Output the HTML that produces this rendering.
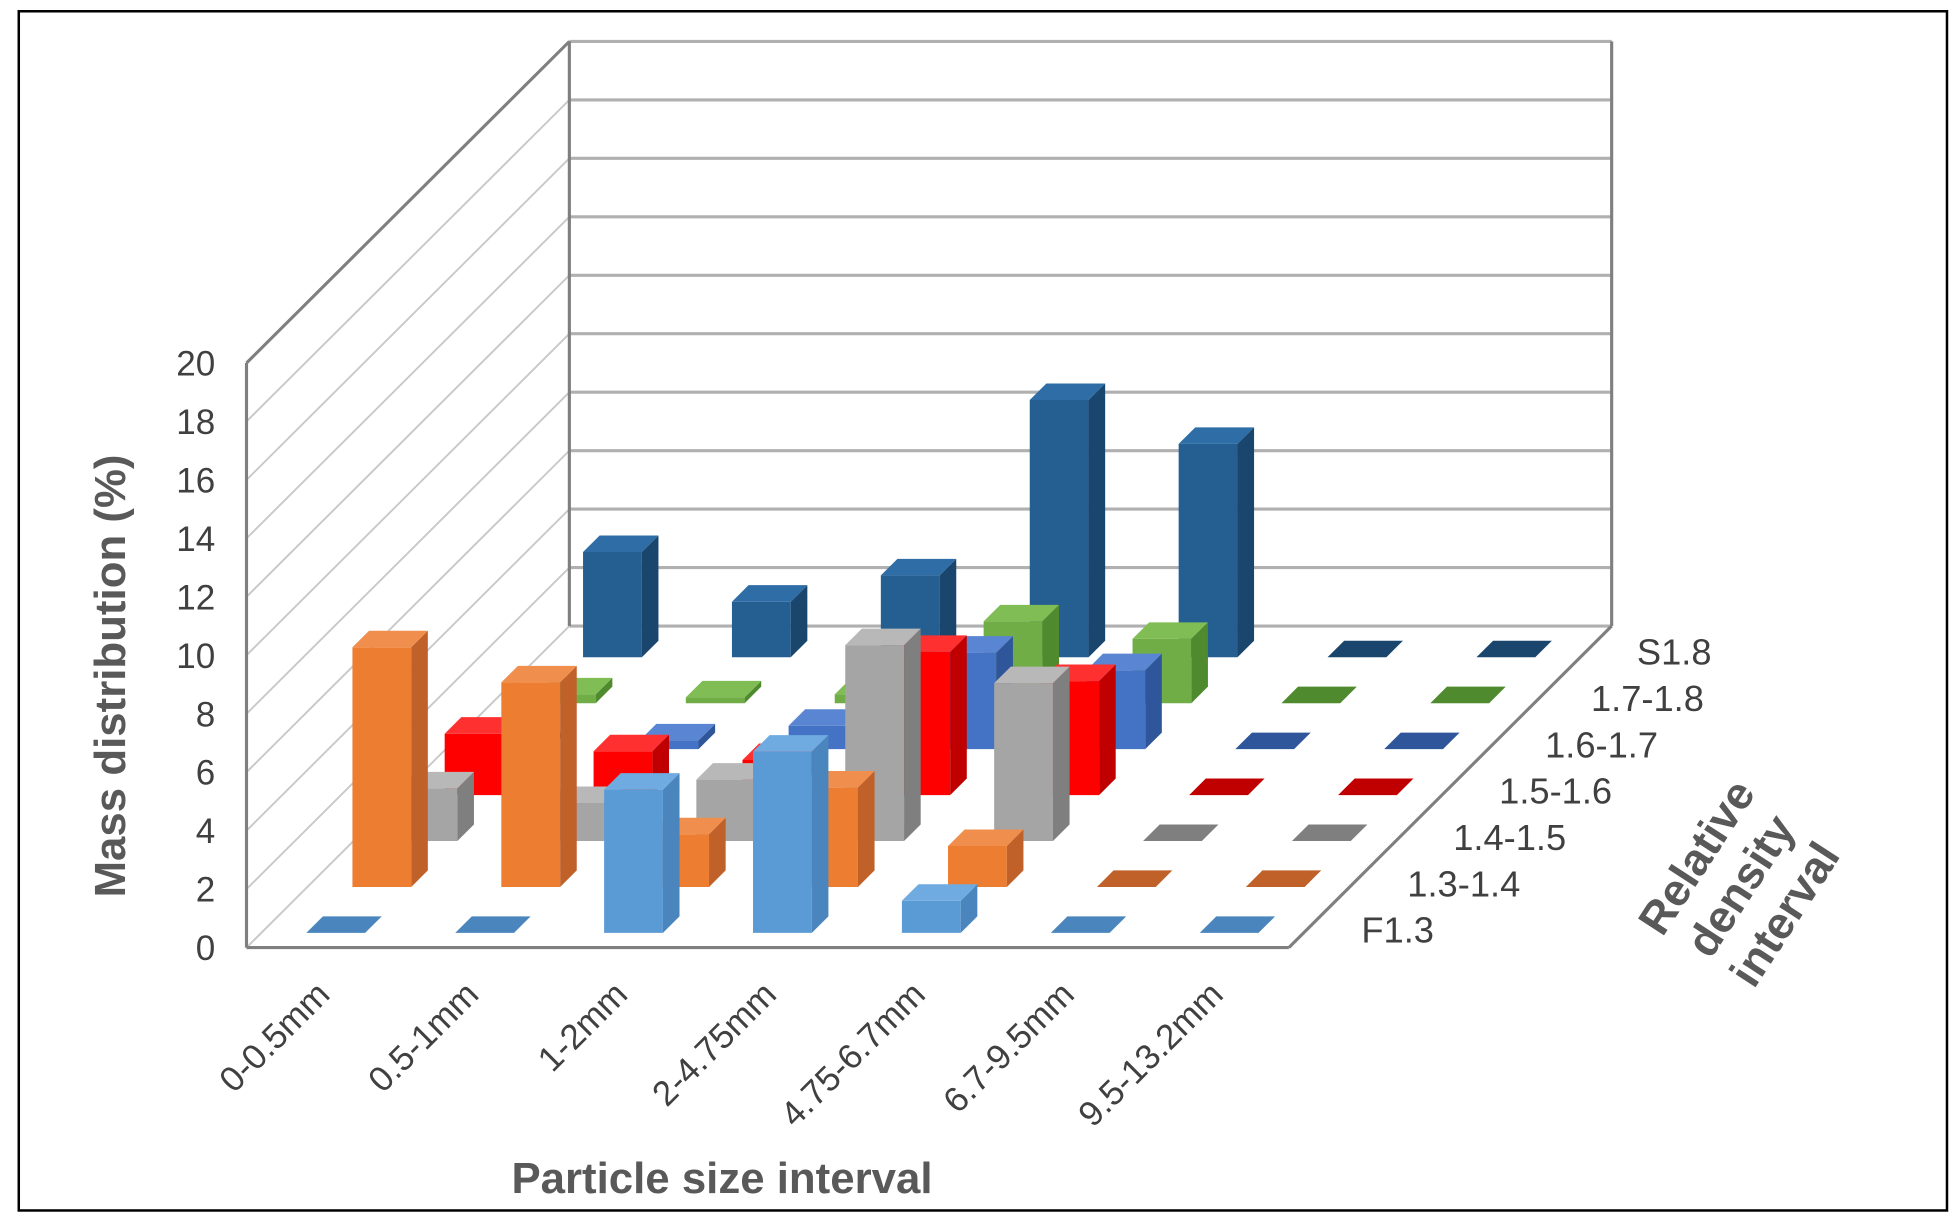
<!DOCTYPE html>
<html><head><meta charset="utf-8"><style>
html,body{margin:0;padding:0;background:#fff;}
svg{display:block;font-family:"Liberation Sans",Arial,sans-serif;}
</style></head><body>
<svg id="chart" width="1957" height="1228" viewBox="0 0 1564 981" preserveAspectRatio="none">
<rect x="15" y="9" width="1541" height="958" fill="#fff" stroke="#000" stroke-width="2"/>
<g id="walls"></g>
<g id="bars"></g>
<g id="labels"></g>
<text transform="translate(100,540) rotate(-90)" text-anchor="middle" font-size="35" font-weight="bold" fill="#595959">Mass distribution (%)</text>
<text x="577" y="953" text-anchor="middle" font-size="35" font-weight="bold" fill="#595959">Particle size interval</text>
<g transform="translate(1398,712) rotate(-57)" font-size="36" font-weight="bold" fill="#595959" text-anchor="middle">
<text x="0" y="-38">Relative</text><text x="0" y="4">density</text><text x="0" y="46">interval</text>
</g>
</svg>
<script>
const categories=["0-0.5mm","0.5-1mm","1-2mm","2-4.75mm","4.75-6.7mm","6.7-9.5mm","9.5-13.2mm"];
const seriesNames=["F1.3","1.3-1.4","1.4-1.5","1.5-1.6","1.6-1.7","1.7-1.8","S1.8"];
const valsF13=[0,0,4.9,6.2,1.1,0,0];
const vals1314=[8.2,7.0,1.8,3.4,1.4,0,0];
const vals1415=[1.8,1.3,2.1,6.7,5.4,0,0];
const vals1516=[2.1,1.5,1.2,4.9,3.9,0,0];
const vals1617=[0,0.3,0.8,3.3,2.7,0,0];
const vals1718=[0.3,0.2,0.3,2.8,2.2,0,0];
const valsS18=[3.6,1.9,2.8,8.8,7.3,0,0];
const series=[valsF13,vals1314,vals1415,vals1516,vals1617,vals1718,valsS18];
const yTicks=[0,2,4,6,8,10,12,14,16,18,20];
const colors=[["#5b9bd5","#4a86bd","#6fabe0"],["#ed7d31","#c0612a","#f08f4d"],["#a5a5a5","#7f7f7f","#b8b8b8"],["#ff0000","#c00000","#ff3030"],["#4472c4","#2f559a","#5a85d2"],["#70ad47","#4f8a2e","#80bd55"],["#255e91","#1a456d","#2e6da5"]];
const NS="http://www.w3.org/2000/svg";
const X0=197,Y0=757,CW=119,DX=36.86,DY=36.7,VU=23.35,MAXV=20;
function px(c,d){return X0+c+d*DX;}
function py(d,v){return Y0-d*DY-v*VU;}
function mk(tag,attrs,parent){const e=document.createElementNS(NS,tag);for(const k in attrs)e.setAttribute(k,attrs[k]);parent.appendChild(e);return e;}
const walls=document.getElementById('walls'),bars=document.getElementById('bars'),labels=document.getElementById('labels');
const D=7,W=7*CW;
yTicks.forEach(v=>{
  const l=mk('line',{x1:px(0,D),y1:py(D,v),x2:px(W,D),y2:py(D,v),stroke:'#b0b0b0','stroke-width':2.5},walls);
  
  
  const l2=mk('line',{x1:px(0,0),y1:py(0,v),x2:px(0,D),y2:py(D,v),stroke:'#c8c8c8','stroke-width':1.5},walls);
  
  
  const t=mk('text',{x:172,y:py(0,v)+10,'text-anchor':'end','font-size':28,fill:'#404040'},labels);
  t.textContent=v;
  
  
});
[[px(0,D),py(D,0),px(0,D),py(D,MAXV)],[px(W,D),py(D,0),px(W,D),py(D,MAXV)],[px(0,0),py(0,0),px(0,0),py(0,MAXV)],[px(0,0),py(0,0),px(W,0),py(0,0)],[px(W,0),py(0,0),px(W,D),py(D,0)],[px(0,0),py(0,MAXV),px(0,D),py(D,MAXV)]].forEach(a=>{
  const l=mk('line',{x1:a[0],y1:a[1],x2:a[2],y2:a[3],stroke:'#7f7f7f','stroke-width':2.5},walls);
  
  
});
function poly(pts,fill,parent){return mk('polygon',{points:pts.map(p=>p.join(',')).join(' '),fill:fill},parent);}
for(let r=D-1;r>=0;r--){
  for(let c=0;c<categories.length;c++){
    const v=series[r][c];
    const cx=CW*c+CW/2,hw=23.5,d0=r+0.32,d1=r+0.68;
    const g=mk('g',{},bars);
    
    
    const col=colors[r];
    if(v>0){
      poly([[px(cx-hw,d0),py(d0,0)],[px(cx+hw,d0),py(d0,0)],[px(cx+hw,d0),py(d0,v)],[px(cx-hw,d0),py(d0,v)]],col[0],g);
      poly([[px(cx+hw,d0),py(d0,0)],[px(cx+hw,d1),py(d1,0)],[px(cx+hw,d1),py(d1,v)],[px(cx+hw,d0),py(d0,v)]],col[1],g);
    }
    poly([[px(cx-hw,d0),py(d0,v)],[px(cx+hw,d0),py(d0,v)],[px(cx+hw,d1),py(d1,v)],[px(cx-hw,d1),py(d1,v)]],v>0?col[2]:col[1],g);
  }
}
categories.forEach((n,c)=>{
  const x=X0+CW*c+68,y=796;
  const t=mk('text',{x:x,y:y,'text-anchor':'end','font-size':28,fill:'#404040',transform:`rotate(-45 ${x} ${y})`},labels);
  t.textContent=n;
  
  
});
seriesNames.forEach((n,r)=>{
  const t=mk('text',{x:1088+r*36.7,y:753-r*37,'font-size':29,fill:'#404040'},labels);
  t.textContent=n;
  
  
});
</script>
</body></html>
